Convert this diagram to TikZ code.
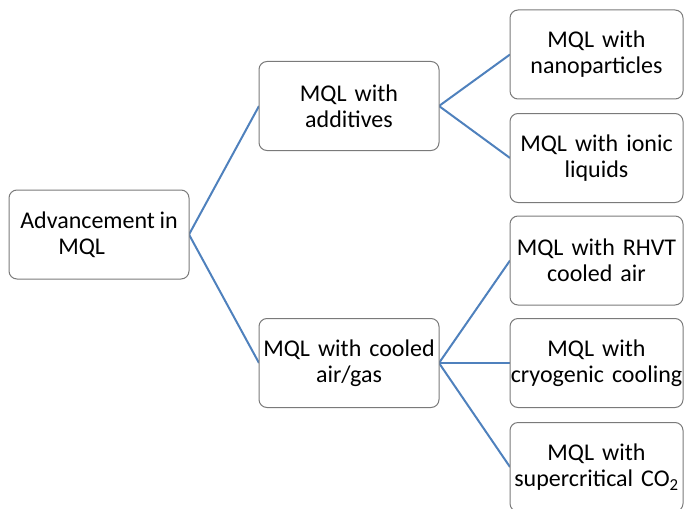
\documentclass[tikz,border=0pt]{standalone}
\usepackage{fontspec}
\setmainfont[WordSpace=0.85]{Carlito}
\definecolor{Clinkblue}{HTML}{4F81BD}
\definecolor{Cboxgray}{HTML}{7A7A7A}
\tikzset{
  mqlbox/.style={draw=Cboxgray,line width=1pt,rounded corners=8pt,fill=white,
    minimum width=180pt,minimum height=89pt,inner sep=0pt,
    font=\fontsize{24}{26}\selectfont},
  leafbox/.style={mqlbox,minimum width=173pt,text width=173pt,align=center},
  link/.style={Clinkblue,line width=2pt}
}

\begin{document}
\begin{tikzpicture}[x=1pt,y=-1pt]
		\path[use as bounding box] (0,0) rectangle (684,508);
		\draw[link] (189,234.5)--(259,106);
		\draw[link] (189,234.5)--(259,363);
		\draw[link] (439,106)--(510,54.5);
		\draw[link] (439,106)--(510,158);
		\draw[link] (439,363)--(510,260.5);
		\draw[link] (439,363)--(510,363);
		\draw[link] (439,363)--(510,467);
		\node[mqlbox,align=left] (root) at (99,234.5) {Advancement in\\\hspace*{38pt}MQL};
		\node[mqlbox,text width=180pt,align=center] (additives) at (349,106) {MQL with\\additives};
		\node[mqlbox,text width=180pt,align=center] (cooled) at (349,363) {MQL with cooled\\air/gas};
		\node[leafbox] (nano) at (596.5,54.5) {MQL with\\nanoparticles};
		\node[leafbox] (ionic) at (596.5,158) {MQL with ionic\\liquids};
		\node[leafbox] (rhvt) at (596.5,260.5) {MQL with RHVT\\cooled air};
		\node[leafbox] (cryo) at (596.5,363) {MQL with\\cryogenic cooling};
		\node[leafbox] (sco2) at (596.5,467) {MQL with\\supercritical CO\textsubscript{2}};
	\end{tikzpicture}
\end{document}
